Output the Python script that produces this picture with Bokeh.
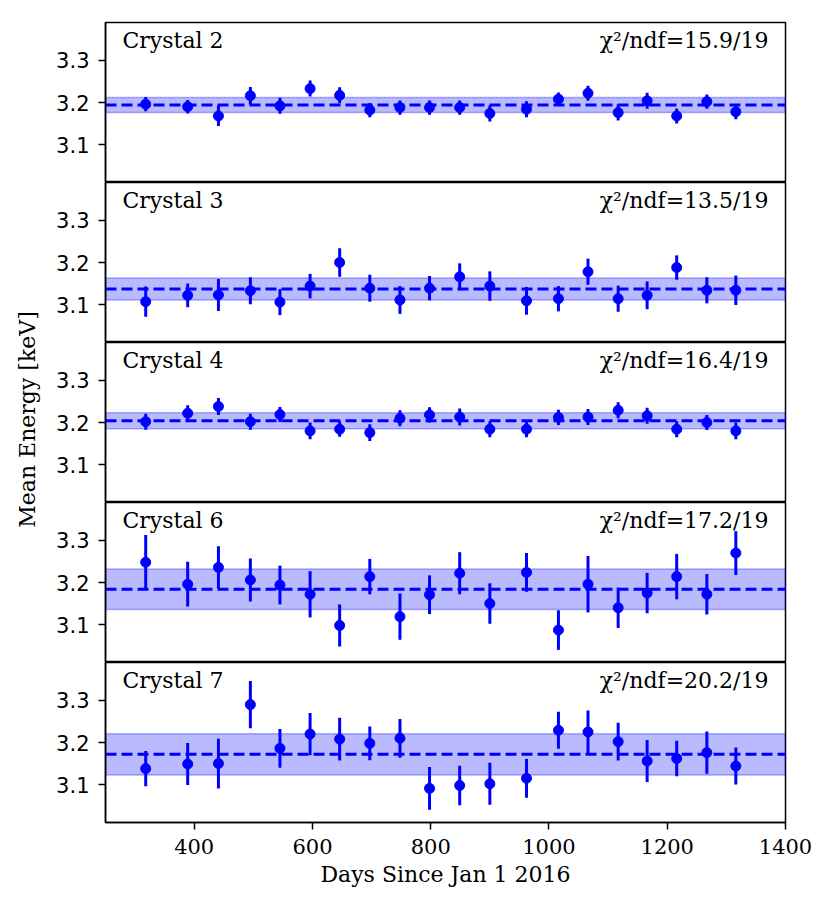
import math
from bokeh.plotting import figure
from bokeh.layouts import column, row
from bokeh.models import Range1d, FixedTicker, Label, Span, BoxAnnotation, ColumnDataSource
from bokeh.embed import file_html
from bokeh.resources import INLINE

days = [318, 389, 441, 495, 545, 596, 646, 697, 748, 798,
        849, 900, 962, 1016, 1066, 1117, 1166, 1216, 1267, 1316]

crystal_names = ["Crystal 2", "Crystal 3", "Crystal 4", "Crystal 6", "Crystal 7"]
chi2_texts = ["χ²/ndf=15.9/19", "χ²/ndf=13.5/19", "χ²/ndf=16.4/19",
              "χ²/ndf=17.2/19", "χ²/ndf=20.2/19"]

c2_val = [3.196, 3.190, 3.168, 3.216, 3.192, 3.233, 3.217, 3.182, 3.188, 3.188,
          3.188, 3.174, 3.184, 3.208, 3.222, 3.176, 3.204, 3.168, 3.202, 3.178]
c2_err = [0.017, 0.016, 0.024, 0.021, 0.019, 0.019, 0.019, 0.017, 0.017, 0.017,
          0.017, 0.019, 0.019, 0.016, 0.018, 0.019, 0.019, 0.018, 0.017, 0.018]
c3_val = [3.107, 3.122, 3.123, 3.133, 3.106, 3.144, 3.200, 3.139, 3.111, 3.139,
          3.166, 3.144, 3.109, 3.114, 3.178, 3.114, 3.122, 3.188, 3.134, 3.134]
c3_err = [0.036, 0.028, 0.038, 0.032, 0.031, 0.029, 0.034, 0.032, 0.033, 0.029,
          0.032, 0.035, 0.033, 0.030, 0.031, 0.031, 0.033, 0.029, 0.031, 0.035]
c4_val = [3.202, 3.222, 3.238, 3.202, 3.219, 3.180, 3.184, 3.176, 3.210, 3.218,
          3.213, 3.184, 3.184, 3.212, 3.213, 3.229, 3.216, 3.184, 3.200, 3.180]
c4_err = [0.019, 0.019, 0.020, 0.019, 0.018, 0.020, 0.018, 0.020, 0.019, 0.018,
          0.020, 0.019, 0.019, 0.018, 0.019, 0.019, 0.019, 0.019, 0.018, 0.020]
c6_val = [3.248, 3.196, 3.236, 3.206, 3.194, 3.172, 3.098, 3.214, 3.119, 3.171,
          3.222, 3.150, 3.224, 3.087, 3.196, 3.140, 3.175, 3.214, 3.172, 3.270]
c6_err = [0.065, 0.053, 0.050, 0.051, 0.046, 0.055, 0.050, 0.042, 0.055, 0.046,
          0.050, 0.048, 0.046, 0.047, 0.067, 0.048, 0.048, 0.054, 0.048, 0.052]
c7_val = [3.138, 3.149, 3.150, 3.290, 3.186, 3.220, 3.208, 3.198, 3.210, 3.091,
          3.098, 3.102, 3.115, 3.229, 3.225, 3.202, 3.156, 3.162, 3.176, 3.144]
c7_err = [0.042, 0.050, 0.059, 0.056, 0.046, 0.050, 0.051, 0.040, 0.046, 0.051,
          0.047, 0.050, 0.046, 0.044, 0.051, 0.045, 0.050, 0.042, 0.050, 0.044]

fit_means = [3.194, 3.137, 3.204, 3.184, 3.172]
fit_errs = [0.018, 0.026, 0.019, 0.048, 0.049]

y_ticks = [3.1, 3.2, 3.3]
x_ticks = [400, 600, 800, 1000, 1200, 1400]

y_title = "Mean Energy [keV]"
x_title = "Days Since Jan 1 2016"

values = [c2_val, c3_val, c4_val, c6_val, c7_val]
errors = [c2_err, c3_err, c4_err, c6_err, c7_err]

SERIF = "DejaVu Serif"
SANS = "DejaVu Sans"

# narrow figure that carries the shared y-axis title
LAB_W, LAB_H = 48, 888
labfig = figure(width=LAB_W, height=LAB_H, x_range=Range1d(0, LAB_W), y_range=Range1d(0, LAB_H),
                x_axis_location=None, y_axis_location=None,
                output_backend="svg", toolbar_location=None, min_border=0)
labfig.grid.visible = False
labfig.outline_line_color = None
labfig.add_layout(Label(x=27, y=LAB_H - 419, text=y_title, angle=math.pi / 2,
                        text_font=SERIF, text_font_size="22px", text_color="black",
                        text_align="center", text_baseline="middle"))

x_range = Range1d(250, 1400)
figs = []
n = len(values)
for i in range(n):
    last = (i == n - 1)
    p = figure(frame_width=680, frame_height=160,
               x_range=x_range, y_range=Range1d(3.01, 3.39),
               x_axis_location="below" if last else None,
               output_backend="svg", toolbar_location=None,
               min_border_left=57, min_border_right=29,
               min_border_top=22 if i == 0 else 0,
               min_border_bottom=0)
    p.grid.visible = False
    p.outline_line_color = "black"
    p.outline_line_width = 1.5
    p.outline_line_alpha = 1.0

    yax = p.yaxis[0]
    yax.ticker = FixedTicker(ticks=y_ticks)
    yax.major_label_text_font = SANS
    yax.major_label_text_font_size = "21px"
    yax.major_label_text_color = "black"
    yax.major_tick_out = 7
    yax.major_tick_in = 0
    yax.minor_tick_out = 0
    yax.minor_tick_in = 0
    yax.axis_line_width = 1.5
    yax.major_tick_line_width = 1.5
    yax.major_label_standoff = 9

    if last:
        xax = p.xaxis[0]
        xax.ticker = FixedTicker(ticks=x_ticks)
        xax.major_label_text_font = SERIF
        xax.major_label_text_font_size = "21px"
        xax.major_label_text_color = "black"
        xax.major_tick_out = 7
        xax.major_tick_in = 0
        xax.minor_tick_out = 0
        xax.minor_tick_in = 0
        xax.axis_line_width = 1.5
        xax.major_tick_line_width = 1.5
        xax.major_label_standoff = 9
        xax.axis_label = x_title
        xax.axis_label_text_font = SERIF
        xax.axis_label_text_font_size = "22px"
        xax.axis_label_text_font_style = "normal"
        xax.axis_label_text_color = "black"
        xax.axis_label_standoff = 5

    m = fit_means[i]
    e = fit_errs[i]
    band = BoxAnnotation(bottom=m - e, top=m + e, fill_color="blue", fill_alpha=0.27,
                         line_color="blue", line_alpha=0.3, line_width=1.5,
                         level="underlay")
    p.add_layout(band)
    span = Span(location=m, dimension="width", line_color="blue", line_width=3,
                line_dash="11 5", level="underlay")
    p.add_layout(span)

    val = values[i]
    err = errors[i]
    src = ColumnDataSource(dict(x=days, y=val,
                                lo=[v - d for v, d in zip(val, err)],
                                hi=[v + d for v, d in zip(val, err)]))
    p.segment(x0="x", y0="lo", x1="x", y1="hi", source=src, line_color="blue", line_width=3)
    p.scatter(x="x", y="y", source=src, size=10, fill_color="blue", line_color="blue", marker="circle")

    p.add_layout(Label(x=250, y=3.39, x_offset=17, y_offset=-5, text=crystal_names[i],
                       text_font=SERIF, text_font_size="22px", text_color="black",
                       text_baseline="top", text_align="left"))
    p.add_layout(Label(x=1400, y=3.39, x_offset=-17, y_offset=-5, text=chi2_texts[i],
                       text_font=SERIF, text_font_size="22px", text_color="black",
                       text_baseline="top", text_align="right"))
    figs.append(p)

layout = row(labfig, column(*figs, spacing=0), spacing=0)
open("out.html", "w").write(file_html(layout, INLINE))
